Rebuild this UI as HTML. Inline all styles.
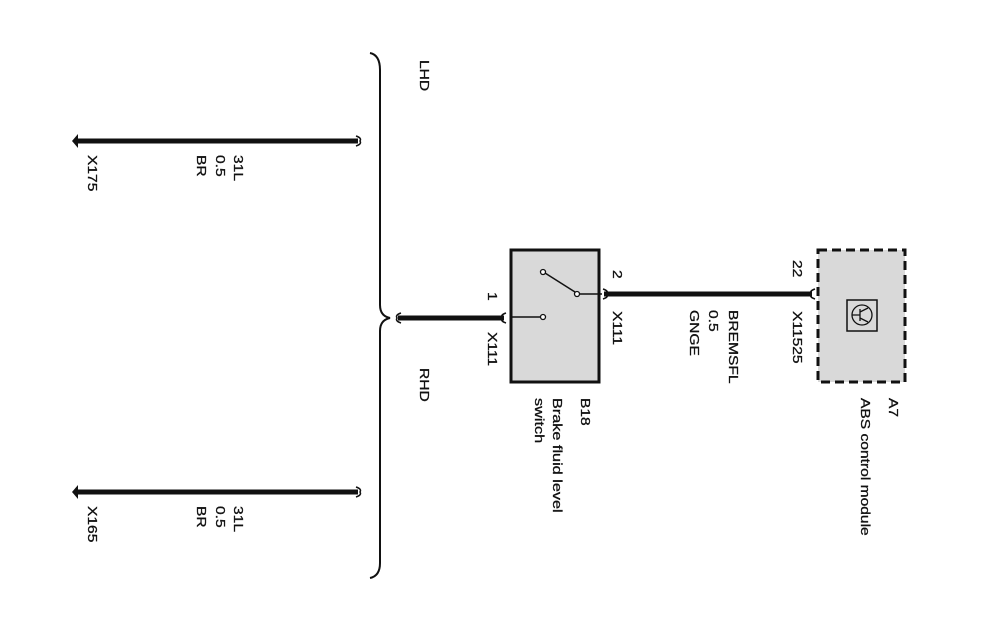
<!DOCTYPE html>
<html><head><meta charset="utf-8"><style>
html,body{margin:0;padding:0;background:#fff;}
svg{display:block;}
text{font-family:"Liberation Sans",Arial,sans-serif;font-size:13px;fill:#111;stroke:#111;stroke-width:0.3;}
</style></head><body>
<svg width="986" height="633" viewBox="0 0 986 633" xmlns="http://www.w3.org/2000/svg">
<path d="M370 53 Q380 55 380 70 L380 305 Q380 316 390 318 Q380 320 380 331 L380 563 Q380 576 370 578" fill="none" stroke="#111" stroke-width="2"/>
<polygon points="72,141 78,134 78,148" fill="#111"/>
<line x1="78" y1="141" x2="358" y2="141" stroke="#111" stroke-width="5"/>
<path d="M356 136 Q362 138 360 141 Q362 144 356 146" fill="none" stroke="#111" stroke-width="1.5"/>
<polygon points="72,492 78,485 78,499" fill="#111"/>
<line x1="78" y1="492" x2="358" y2="492" stroke="#111" stroke-width="5"/>
<path d="M356 487 Q362 489 360 492 Q362 495 356 497" fill="none" stroke="#111" stroke-width="1.5"/>
<line x1="398" y1="318" x2="504" y2="318" stroke="#111" stroke-width="5"/>
<path d="M401 313 Q395 315 397 318 Q395 321 401 323" fill="none" stroke="#111" stroke-width="1.5"/>
<path d="M506 313 Q500 315 502 318 Q500 321 506 323" fill="none" stroke="#111" stroke-width="1.5"/>
<rect x="511" y="250" width="88" height="132" fill="#d9d9d9" stroke="#111" stroke-width="3"/>
<line x1="511" y1="317" x2="541" y2="317" stroke="#111" stroke-width="1.5"/>
<circle cx="543" cy="317" r="2.5" fill="#fff" stroke="#111" stroke-width="1.3"/>
<line x1="545" y1="273" x2="575" y2="292" stroke="#111" stroke-width="1.5"/>
<circle cx="543" cy="272" r="2.5" fill="#fff" stroke="#111" stroke-width="1.3"/>
<line x1="579" y1="294" x2="602" y2="294" stroke="#111" stroke-width="1.5"/>
<circle cx="577" cy="294" r="2.5" fill="#fff" stroke="#111" stroke-width="1.3"/>
<line x1="604" y1="294" x2="812" y2="294" stroke="#111" stroke-width="5"/>
<path d="M603 289 Q609 291 607 294 Q609 297 603 299" fill="none" stroke="#111" stroke-width="1.5"/>
<path d="M815 289 Q809 291 811 294 Q809 297 815 299" fill="none" stroke="#111" stroke-width="1.5"/>
<rect x="818" y="250" width="87" height="132" fill="#d9d9d9" stroke="#111" stroke-width="3" stroke-dasharray="9,5"/>
<rect x="847" y="300" width="30" height="31" fill="none" stroke="#111" stroke-width="1.5"/>
<circle cx="862" cy="315" r="10" fill="none" stroke="#111" stroke-width="1.3"/>
<path d="M852 315 L860 315 M860 309 L860 321 M860 312 L868 308 M860 318 L868 322" fill="none" stroke="#111" stroke-width="1.3"/>
<g>
<text transform="translate(420,60) rotate(90) scale(1.2,1)">LHD</text>
<text transform="translate(420,368) rotate(90) scale(1.2,1)">RHD</text>
<text transform="translate(88,155) rotate(90) scale(1.2,1)">X175</text>
<text transform="translate(234,155) rotate(90) scale(1.2,1)">31L</text>
<text transform="translate(216,155) rotate(90) scale(1.2,1)">0.5</text>
<text transform="translate(197,155) rotate(90) scale(1.2,1)">BR</text>
<text transform="translate(88,506) rotate(90) scale(1.2,1)">X165</text>
<text transform="translate(234,506) rotate(90) scale(1.2,1)">31L</text>
<text transform="translate(216,506) rotate(90) scale(1.2,1)">0.5</text>
<text transform="translate(197,506) rotate(90) scale(1.2,1)">BR</text>
<text transform="translate(488,292) rotate(90) scale(1.2,1)">1</text>
<text transform="translate(488,332) rotate(90) scale(1.2,1)">X111</text>
<text transform="translate(613,270) rotate(90) scale(1.2,1)">2</text>
<text transform="translate(613,311) rotate(90) scale(1.2,1)">X111</text>
<text transform="translate(793,260) rotate(90) scale(1.2,1)">22</text>
<text transform="translate(793,311) rotate(90) scale(1.2,1)">X11525</text>
<text transform="translate(729,310) rotate(90) scale(1.2,1)">BREMSFL</text>
<text transform="translate(709,310) rotate(90) scale(1.2,1)">0.5</text>
<text transform="translate(690,310) rotate(90) scale(1.2,1)">GNGE</text>
<text transform="translate(581,398) rotate(90) scale(1.2,1)">B18</text>
<text transform="translate(553,398) rotate(90) scale(1.25,1)">Brake fluid level</text>
<text transform="translate(535,398) rotate(90) scale(1.25,1)">switch</text>
<text transform="translate(889,398) rotate(90) scale(1.2,1)">A7</text>
<text transform="translate(861,398) rotate(90) scale(1.2,1)">ABS control module</text>
</g>
</svg>
</body></html>
